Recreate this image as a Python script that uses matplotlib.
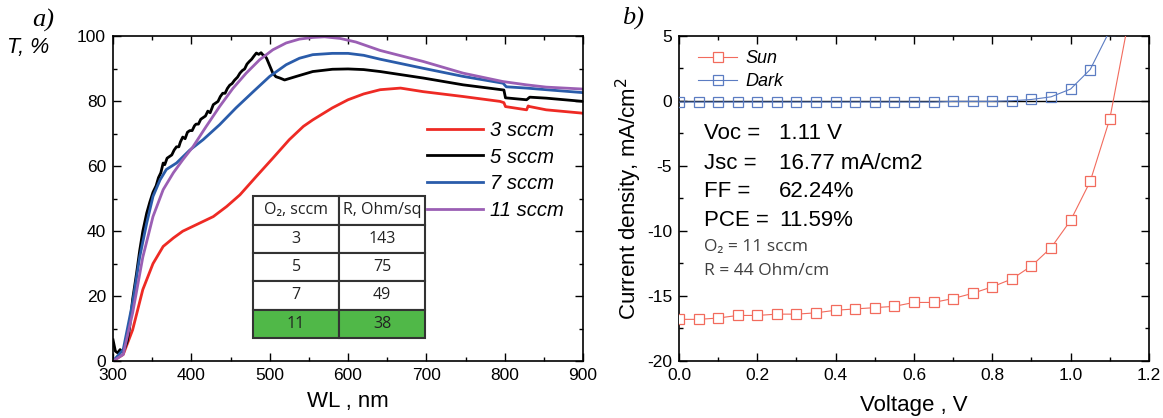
"""
Two-panel figure: a) transmittance of films for several O2 flows,
b) J-V curves of the cell under sun and in the dark.
"""

import matplotlib
matplotlib.use("Agg")
import matplotlib.pyplot as plt
from matplotlib.ticker import MultipleLocator

plt.rcParams["font.family"] = ["Liberation Sans", "DejaVu Sans"]
plt.rcParams["axes.unicode_minus"] = False

# ---- panel a) transmittance ----
wl_3 = [300, 313, 325, 338, 351, 364, 377, 389, 402, 415, 428, 445, 462, 483,
        504, 525, 543, 555, 580, 600, 620, 641, 667, 696, 747, 794, 799, 801,
        828, 830, 832, 853, 898, 900]
t_3 = [0, 2, 9.6, 22, 30, 35.3, 37.9, 40, 41.5, 43, 44.5, 47.6, 51.2, 56.9,
       62.5, 68.2, 72.3, 74.3, 78, 80.5, 82.3, 83.6, 84.1, 83, 81.5, 80, 79.6,
       78.4, 77.4, 78.6, 78.4, 77.4, 76.4, 76.3]

wl_5 = [300, 303, 306, 309, 312, 315, 318, 321, 325, 330, 334, 338, 343, 347,
        351, 355, 358, 361, 364, 366, 369, 372, 375, 378, 381, 384, 386, 389,
        392, 395, 398, 401, 404, 406, 409, 412, 415, 418, 421, 424, 428, 431,
        434, 437, 440, 443, 446, 449, 452, 455, 459, 462, 465, 468, 471, 474,
        477, 480, 483, 486, 489, 491, 494, 496, 500, 504, 508, 513, 519, 534,
        555, 580, 600, 620, 641, 696, 747, 799, 801, 828, 830, 832, 853, 900]
t_5 = [6.5, 3, 2.5, 3.5, 2.8, 4, 6, 10, 19, 27, 34, 40, 45.6, 49,
       52, 54, 56.5, 58, 61, 60.5, 62.5, 63, 63.5, 65, 66, 66, 67.5, 69,
       68.5, 70.5, 71, 71, 72.5, 73, 73, 74.5, 75, 75.5, 77, 76.5, 79, 79.5,
       80, 81.5, 82.5, 82.5, 84, 85, 85.5, 86.5, 87.5, 88.7, 89.5, 90, 91.5, 92.3,
       93, 94, 94.9, 94.5, 95, 94.4, 94, 93.3, 91, 88.7, 87.6, 87.2, 86.6, 87.7,
       89.2, 89.9, 90, 89.8, 89.2, 87.2, 85.1, 83.5, 81.1, 80.5, 80.9, 81.3, 81, 80]

wl_7 = [300, 313, 325, 334, 343, 351, 360, 368, 381, 398, 415, 436, 457, 479,
        500, 521, 538, 555, 580, 600, 620, 641, 696, 747, 798, 802, 828, 853, 900]
t_7 = [0, 3.5, 18, 32, 42.5, 50.7, 55.8, 59, 61, 65, 68.2, 72.8, 78, 83,
       87.7, 91.3, 93.3, 94.4, 94.8, 94.8, 94.2, 93, 90.2, 87.7, 85.6, 84.5,
       84.1, 83.6, 82.7]

wl_11 = [300, 313, 325, 338, 351, 364, 377, 389, 402, 419, 436, 453, 470, 487,
         504, 521, 538, 555, 570, 590, 610, 641, 696, 747, 798, 828, 853, 900]
t_11 = [0, 2, 14.8, 32, 44.5, 52.8, 58, 62, 66, 72.3, 78.4, 84, 88.7, 92.8,
        95.9, 98, 99.2, 99.7, 99.9, 99.4, 98.3, 95.7, 92.3, 88.7, 86.1, 85.1,
        84.4, 83.8]

flows = ["3 sccm", "5 sccm", "7 sccm", "11 sccm"]
flow_colors = ["#ee2a24", "#000000", "#2a5caa", "#9b5fb4"]

table_header = ["O\u2082, sccm", "R, Ohm/sq"]
table_rows = [["3", "143"], ["5", "75"], ["7", "49"], ["11", "38"]]

# ---- panel b) J-V curves ----
volts_sun = [0.0, 0.05, 0.10, 0.15, 0.20, 0.25, 0.30, 0.35, 0.40, 0.45, 0.50,
             0.55, 0.60, 0.65, 0.70, 0.75, 0.80, 0.85, 0.90, 0.95, 1.00, 1.05,
             1.10, 1.15]
j_sun = [-16.8, -16.8, -16.7, -16.5, -16.5, -16.4, -16.4, -16.3, -16.1, -16.0,
         -15.9, -15.8, -15.5, -15.5, -15.2, -14.8, -14.3, -13.7, -12.7, -11.3,
         -9.2, -6.2, -1.4, 6.5]

volts_dark = [0.0, 0.05, 0.10, 0.15, 0.20, 0.25, 0.30, 0.35, 0.40, 0.45, 0.50,
              0.55, 0.60, 0.65, 0.70, 0.75, 0.80, 0.85, 0.90, 0.95, 1.00, 1.05,
              1.10]
j_dark = [-0.1, -0.1, -0.1, -0.1, -0.1, -0.1, -0.1, -0.1, -0.1, -0.1, -0.1,
          -0.1, -0.1, -0.1, -0.05, -0.05, -0.05, 0.0, 0.1, 0.3, 0.9, 2.4, 5.4]

cell_labels = ["Voc =", "Jsc =", "FF =", "PCE ="]
cell_values = ["1.11 V", "16.77 mA/cm2", "62.24%", "11.59%"]
cell_notes = ["O\u2082 = 11 sccm", "R = 44 Ohm/cm"]

SUN_COLOR = "#f26b5d"
DARK_COLOR = "#5b7cc2"
GREEN = "#50b848"


def style_axes(ax):
    ax.tick_params(which="both", direction="in", top=True, right=True,
                   labelsize=12.5, width=1.0)
    ax.tick_params(which="major", length=6)
    ax.tick_params(which="minor", length=3)
    ax.tick_params(axis="x", pad=5)
    ax.tick_params(axis="y", pad=5)
    for sp in ax.spines.values():
        sp.set_linewidth(1.2)


fig = plt.figure(figsize=(11.63, 4.18), dpi=100)

# ---------- a) ----------
ax1 = fig.add_axes([0.0972, 0.1364, 0.4041, 0.7763])
for wl, t, lab, col in zip([wl_3, wl_5, wl_7, wl_11], [t_3, t_5, t_7, t_11],
                           flows, flow_colors):
    ax1.plot(wl, t, color=col, lw=2.0, label=lab)
ax1.set_xlim(300, 900)
ax1.set_ylim(0, 100)
ax1.xaxis.set_major_locator(MultipleLocator(100))
ax1.xaxis.set_minor_locator(MultipleLocator(50))
ax1.yaxis.set_major_locator(MultipleLocator(20))
ax1.yaxis.set_minor_locator(MultipleLocator(10))
style_axes(ax1)
ax1.set_xlabel("WL , nm", fontsize=16, labelpad=6)

leg1 = ax1.legend(loc="upper left", bbox_to_anchor=(0.668, 0.74), frameon=False,
                  fontsize=14.5, handlelength=2.8, handletextpad=0.35,
                  labelspacing=0.38, borderpad=0, borderaxespad=0)
for txt in leg1.get_texts():
    txt.set_fontstyle("italic")

tbl = ax1.table(cellText=[table_header] + table_rows, cellLoc="center",
                bbox=[0.298, 0.071, 0.366, 0.437])
tbl.auto_set_font_size(False)
for (r, c), cell in tbl.get_celld().items():
    cell.set_edgecolor("#333333")
    cell.set_linewidth(1.5)
    cell.get_text().set_fontsize(11.5)
    cell.get_text().set_fontfamily(["Open Sans", "DejaVu Sans"])
    cell.get_text().set_color("#222222")
    if r == len(table_rows):
        cell.set_facecolor(GREEN)

fig.text(0.0275, 0.952, "a)", fontsize=19, style="italic",
         family=["Liberation Serif"], ha="left", va="center")
fig.text(0.006, 0.887, "T, %", fontsize=15.5, style="italic",
         ha="left", va="center")

# ---------- b) ----------
ax2 = fig.add_axes([0.5838, 0.1364, 0.4041, 0.7782])
ax2.axhline(0, color="black", lw=1.0, zorder=1)
ax2.plot(volts_sun, j_sun, color=SUN_COLOR, lw=0.8, marker="s", ms=7.5,
         mfc="white", mew=0.9, label="Sun", zorder=3)
ax2.plot(volts_dark, j_dark, color=DARK_COLOR, lw=0.8, marker="s", ms=7.5,
         mfc="none", mew=0.9, label="Dark", zorder=3)
ax2.set_xlim(0, 1.2)
ax2.set_ylim(-20, 5)
ax2.xaxis.set_major_locator(MultipleLocator(0.2))
ax2.xaxis.set_minor_locator(MultipleLocator(0.1))
ax2.yaxis.set_major_locator(MultipleLocator(5))
ax2.yaxis.set_minor_locator(MultipleLocator(2.5))
ax2.xaxis.set_major_formatter(plt.FuncFormatter(lambda v, p: f"{v:.1f}"))
style_axes(ax2)
ax2.set_xlabel("Voltage , V", fontsize=16, labelpad=9)
ax2.set_ylabel("Current density, mA/cm$^2$", fontsize=16, labelpad=2)

leg2 = ax2.legend(loc="upper left", bbox_to_anchor=(0.04, 0.955), frameon=False,
                  fontsize=13, handlelength=2.2, handletextpad=0.45,
                  labelspacing=0.32, borderpad=0, borderaxespad=0, numpoints=1)
for txt in leg2.get_texts():
    txt.set_fontstyle("italic")

label_y = [-2.48, -4.79, -7.01, -9.17]
for y, lab, val in zip(label_y, cell_labels, cell_values):
    ax2.text(0.064, y, lab, fontsize=16, ha="left", va="center")
    ax2.text(0.255, y, val, fontsize=16, ha="left", va="center")
for y, note in zip([-11.24, -13.08], cell_notes):
    ax2.text(0.064, y, note, fontsize=12.5, ha="left", va="center",
             color="#404040", family=["Open Sans", "DejaVu Sans"])

fig.text(0.535, 0.957, "b)", fontsize=19, style="italic",
         family=["Liberation Serif"], ha="left", va="center")

fig.savefig("out.png", dpi=100)
